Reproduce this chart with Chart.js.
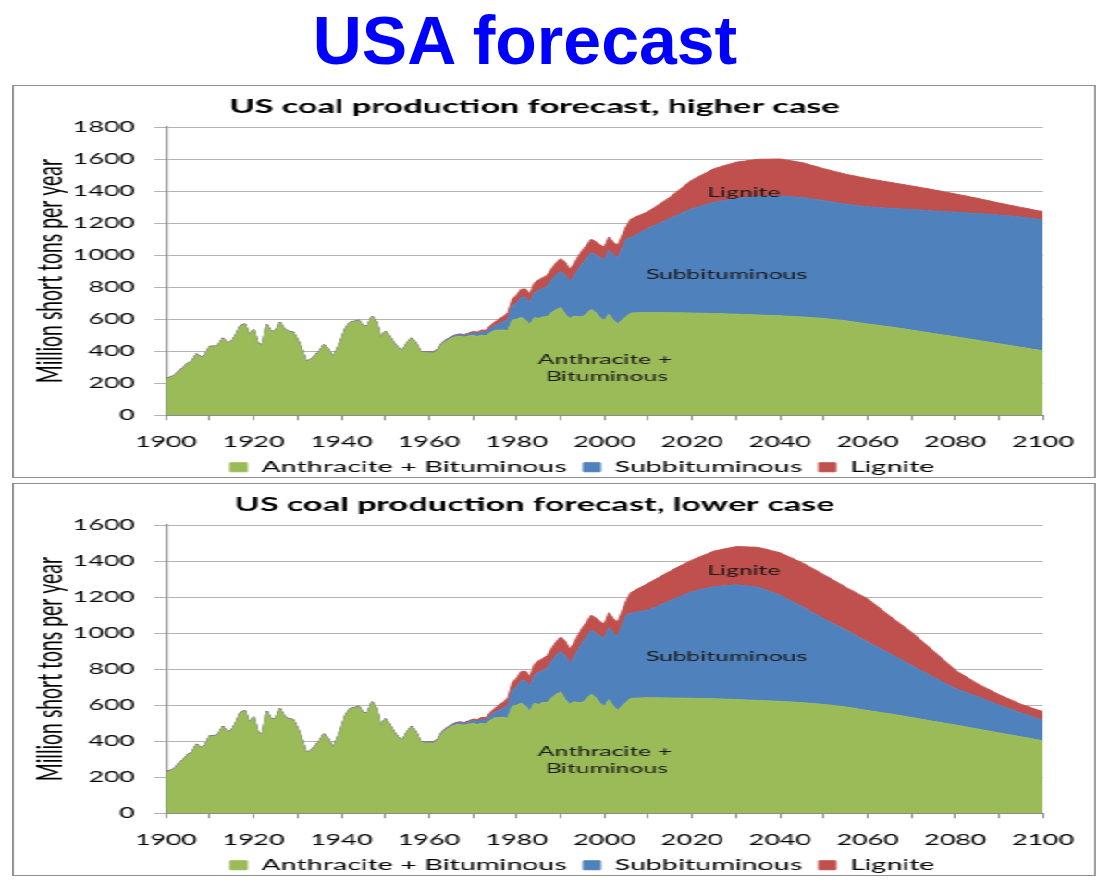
<!DOCTYPE html>
<html>
<head>
<meta charset="utf-8">
<title>USA forecast</title>
<script src="https://cdn.jsdelivr.net/npm/chart.js@4.4.1/dist/chart.umd.min.js"></script>
<style>
html, body { margin:0; padding:0; background:#fff; }
body { width:1117px; height:895px; position:relative; overflow:hidden; }
#head { position:absolute; left:0; top:6px; width:1050px; text-align:center; font-family:"Liberation Sans", Arial, sans-serif; font-weight:bold; font-size:68px; line-height:68px; color:#0000ff; }
.box { position:absolute; left:12px; width:584px; height:391px; border:1px solid #8f8f8f; transform-origin:0 0; transform:scaleX(1.85); }
.box canvas { position:absolute; left:0; top:0; }
</style>
</head>
<body>
<div id="head">USA forecast</div>
<div class="box" style="top:85px"><canvas id="graficoAlto" width="584" height="400"></canvas></div>
<div class="box" style="top:483px"><canvas id="graficoBaixo" width="584" height="400"></canvas></div>
<script>
let nomes = ["Anthracite + Bituminous","Subbituminous","Lignite"]
let cores = ["#9bbb59","#4f81bd","#c0504d"]

// history 1900-2005, one value per year
let anosHist = []
for(let a = 1900; a <= 2005; a++){ anosHist.push(a) }

let betHist = [
225,235,246,275,295,323,337,380,360,375,
427,427,437,479,448,458,500,556,567,500,
531,444,437,562,521,521,577,535,521,517,
469,406,333,344,369,396,437,410,360,406,
469,542,577,583,590,552,556,615,580,479,
521,490,448,417,402,448,479,448,396,390,
390,388,406,444,465,479,490,494,488,495,
500,492,500,495,515,531,531,533,527,594,
600,610,594,562,610,604,615,615,640,660,
673,631,604,619,615,615,635,660,640,610,
590,630,594,569,595,615]

let subHist = [
3,3,3,3,3,3,3,3,3,3,
3,3,3,3,3,3,3,3,3,3,
3,3,3,3,3,3,3,3,3,3,
3,3,3,3,3,3,3,3,3,3,
3,3,3,3,3,3,3,3,3,3,
3,3,3,3,3,3,3,3,3,3,
4,4,5,5,6,7,8,9,10,11,
15,18,21,20,27,29,42,50,73,86,
100,125,141,138,155,177,177,191,204,215,
225,245,229,241,291,333,344,355,360,375,
379,401,406,410,445,485]

let ligHist = [
2,2,2,2,2,2,2,2,2,2,
2,2,2,2,2,2,2,2,2,2,
2,2,2,2,2,2,2,2,2,2,
2,2,2,2,2,2,2,2,2,2,
2,2,2,2,2,2,2,2,2,2,
2,2,2,2,2,2,2,2,2,2,
3,3,3,4,4,4,5,5,6,7,
8,10,12,15,18,22,28,35,40,45,
50,52,54,56,60,65,68,70,72,76,
80,80,78,80,82,82,84,84,84,80,
80,82,80,80,80,78]

let anosPrev = [2006,2010,2015,2020,2025,2030,2035,2040,2045,2050,2055,2060,2065,2070,2075,2080,2085,2090,2095,2100]

let betPrev = [638,641,640,638,635,631,626,621,614,604,590,570,552,532,510,490,468,446,424,402]

let subAlto = [472,526,590,652,695,723,740,748,746,736,728,732,740,753,765,778,792,804,814,817]
let ligAlto = [115,105,132,180,210,226,232,231,218,200,187,176,163,147,133,114,95,75,60,52]

let subBaixo = [472,487,540,592,622,637,629,590,534,476,427,380,335,288,245,203,180,154,133,113]
let ligBaixo = [115,148,165,176,198,212,221,235,244,245,238,240,208,185,145,101,72,58,48,48]

let notasAlto = [
{texto:"Lignite", ano:2031.8, valor:1387},
{texto:"Subbituminous", ano:2027.8, valor:875},
{texto:"Anthracite +", ano:2000.1, valor:344},
{texto:"Bituminous", ano:2000.5, valor:239}
]

let notasBaixo = [
{texto:"Lignite", ano:2031.8, valor:1344},
{texto:"Subbituminous", ano:2027.8, valor:867},
{texto:"Anthracite +", ano:2000.1, valor:344},
{texto:"Bituminous", ano:2000.5, valor:250}
]

Chart.defaults.font.family = "Lato"
Chart.defaults.color = "#000"

let notasPlugin = {
id:"notas",
afterDatasetsDraw(chart, args, opts){
let ctx = chart.ctx
let x = chart.scales.x
let y = chart.scales.y
ctx.save()
ctx.font = "13.3px Lato"
ctx.fillStyle = "#1a1a1a"
ctx.textAlign = "center"
ctx.textBaseline = "middle"
opts.itens.forEach(n => {
ctx.fillText(n.texto, x.getPixelForValue(n.ano), y.getPixelForValue(n.valor))
})
ctx.restore()
}
}

function pontos(hist, prev){
let anos = anosHist.concat(anosPrev)
let vals = hist.concat(prev)
return anos.map((a, i) => ({x:a, y:vals[i]}))
}

// trailing blanks on the last entry push the centred legend a bit to the left
function itensLegenda(chart){
let itens = Chart.defaults.plugins.legend.labels.generateLabels(chart)
itens[itens.length - 1].text += "      "
return itens
}

function criarGrafico(id, titulo, sub, lig, maxY, notas){

let series = [pontos(betHist, betPrev), pontos(subHist, sub), pontos(ligHist, lig)]

new Chart(document.getElementById(id),{

type:"line",

data:{
datasets: series.map((d, i) => ({
label:nomes[i],
data:d,
backgroundColor:cores[i],
borderColor:cores[i],
borderWidth:1,
pointRadius:0,
tension:0,
fill: i === 0 ? "origin" : "-1"
}))
},

plugins:[notasPlugin],

options:{
responsive:false,
animation:false,
events:[],
layout:{padding:{left:6.5, right:27.7, top:4, bottom:1}},
plugins:{
title:{
display:true,
text:titulo,
color:"#000",
font:{size:18.5, weight:"bold", lineHeight:1.2},
padding:{top:5.9, bottom:8.9}
},
legend:{
position:"bottom",
fullSize:false,
labels:{boxWidth:9, boxHeight:9, padding:9, color:"#000", font:{size:15.5}, generateLabels:itensLegenda}
},
tooltip:{enabled:false},
notas:{itens:notas}
},
scales:{
x:{
type:"linear",
min:1900,
max:2100,
afterFit: s => { s.height = 35.25 },
grid:{drawOnChartArea:false, drawTicks:true, tickLength:5, color:"#8c8c8c"},
border:{color:"#8c8c8c", width:1},
ticks:{
stepSize:10,
autoSkip:false,
maxRotation:0,
padding:4.4,
font:{size:14.5, lineHeight:2.5},
color:"#000",
callback: v => v % 20 === 0 ? String(v) : ""
}
},
y:{
stacked:true,
min:0,
max:maxY,
afterFit: s => { s.width = 75.7 },
grid:{color:"#b3b3b3", tickLength:6.3},
border:{color:"#8c8c8c", width:1.2},
ticks:{stepSize:200, padding:10.4, font:{size:14.5}, color:"#000", callback: v => String(v)},
title:{
display:true,
text:"Million short tons per year",
color:"#000",
font:{size:19.4, lineHeight:1},
padding:{top:3.3, bottom:0}
}
}
}
}

})

}

criarGrafico("graficoAlto", "US coal production forecast, higher case", subAlto, ligAlto, 1800, notasAlto)
criarGrafico("graficoBaixo", "US coal production forecast, lower case", subBaixo, ligBaixo, 1600, notasBaixo)
</script>
</body>
</html>
